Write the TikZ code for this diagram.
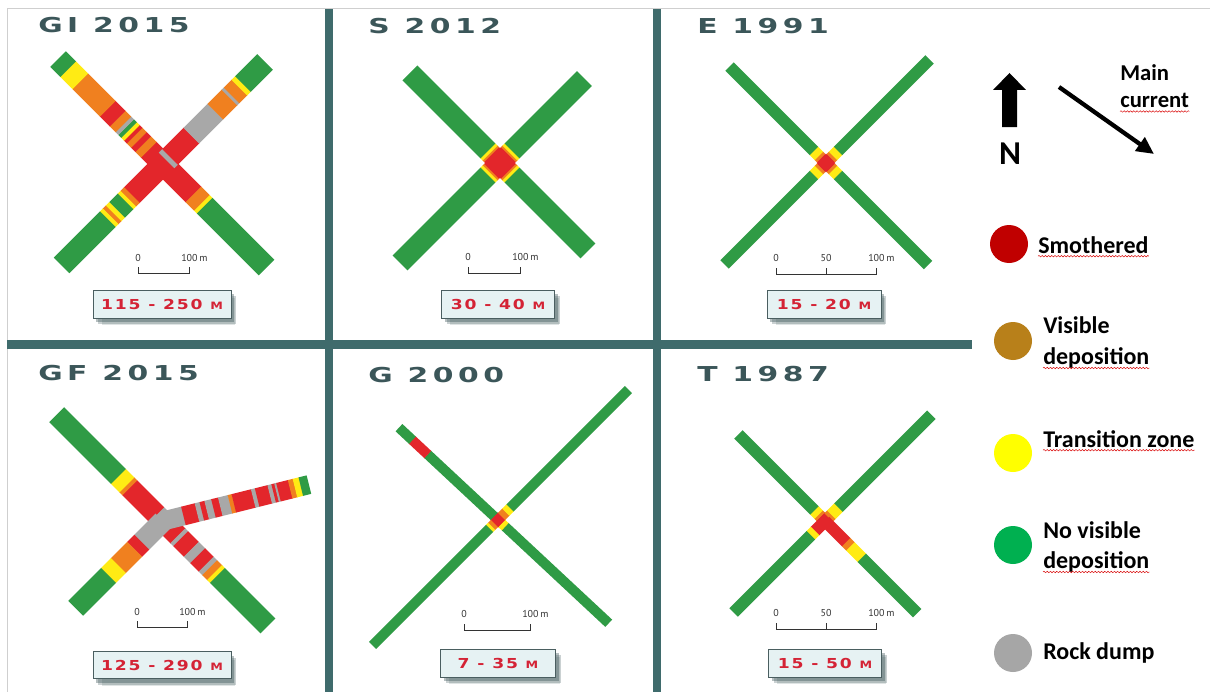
\documentclass[tikz,border=0pt]{standalone}
\usepackage{fontspec}
\setmainfont{Carlito}
\newfontfamily\titlefont{DejaVu Sans}[FakeStretch=1.45,LetterSpace=22]
\newfontfamily\rangefont{DejaVu Sans}[FakeStretch=1.25,LetterSpace=13]
\newfontfamily\scalefont{PT Sans}
\usetikzlibrary{arrows.meta,shadows,decorations.pathmorphing}

\definecolor{armgreen}{HTML}{2F9B45}
\definecolor{armred}{HTML}{E3262B}
\definecolor{armorange}{HTML}{F0801F}
\definecolor{armyellow}{HTML}{FFEB14}
\definecolor{armgrey}{HTML}{A8A8A8}
\definecolor{barcol}{HTML}{3F6B6C}
\definecolor{framegrey}{HTML}{CFCFCF}
\definecolor{titlecol}{HTML}{3B5659}
\definecolor{rangered}{HTML}{D42335}
\definecolor{boxfill}{HTML}{E6F2F3}
\definecolor{boxline}{HTML}{4A5E60}
\definecolor{boxshadow}{HTML}{2E4A4C}
\definecolor{scalecol}{HTML}{333333}
\definecolor{legred}{HTML}{C00000}
\definecolor{legbrown}{HTML}{B8801A}
\definecolor{legyellow}{HTML}{FFFF00}
\definecolor{leggreen}{HTML}{00B050}
\definecolor{leggrey}{HTML}{A6A6A6}

% one arm of a cross: angle, half width, bands from/to/colour
\newcommand{\armstrip}[3]{%
  \begin{scope}[rotate=#1]
    \foreach \from/\to/\col in {#3}
      \fill[\col] (\from,-#2) rectangle (\to+0.4,#2);
  \end{scope}}
\newcommand{\smallm}{{\fontsize{7.6}{8}\selectfont M}}

\begin{document}
\begin{tikzpicture}[x=0.75pt, y=-0.75pt,
  paneltitle/.style={anchor=west, inner sep=0, text=titlecol, font=\titlefont\bfseries\fontsize{15.4}{16}\selectfont},
  rangebox/.style={draw=boxline, line width=0.6pt, fill=boxfill, minimum height=21pt, inner sep=0, text=rangered,
    font=\rangefont\bfseries\fontsize{10.3}{11}\selectfont,
    drop shadow={shadow xshift=5pt, shadow yshift=-6pt, shadow scale=0.96, opacity=0.15, fill=boxshadow},
    drop shadow={shadow xshift=4pt, shadow yshift=-4.5pt, opacity=0.25, fill=boxshadow},
    drop shadow={shadow xshift=2.5pt, shadow yshift=-3pt, opacity=0.35, fill=boxshadow}},
  scalebar/.style={draw=scalecol, line width=0.6pt},
  scalelbl/.style={inner sep=0, text=scalecol, font=\scalefont\fontsize{7.5}{8}\selectfont},
  legdot/.style={circle, minimum size=28.5pt, inner sep=0},
  legtext/.style={anchor=base west, inner sep=0, font=\bfseries\fontsize{18}{20}\selectfont},
  curtext/.style={anchor=base west, inner sep=0, font=\bfseries\fontsize{17}{19}\selectfont},
  squiggle/.style={draw=red!85!black, line width=0.35pt, decorate, decoration={snake, amplitude=0.55pt, segment length=2.4pt}},
  currentarrow/.style={line width=3.2pt, -{Triangle[length=13pt, width=12pt]}}]
\useasboundingbox (0,0) rectangle (1210,692);
\fill[white] (0,0) rectangle (1210,692);

% frame and bars
\draw[framegrey, line width=0.75pt] (7,692) -- (7,9) -- (1210,9);
\fill[barcol] (325,9) rectangle (333,692);
\fill[barcol] (653,9) rectangle (661,692);
\fill[barcol] (7,340) rectangle (972,349);

% GI 2015
\begin{scope}[shift={(163,164)}]
  \armstrip{225}{11}{0/44/armred, 44/49/armorange, 49/53/armyellow, 53/65/armgreen, 65/70/armyellow, 70/74/armorange, 74/78/armyellow, 78/143/armgreen}
  \armstrip{-45}{11}{0/43/armred, 43/55/armorange, 55/59/armyellow, 59/146/armgreen}
  \armstrip{135}{11}{0/20/armred, 20/28/armorange, 28/34/armred, 34/40/armorange, 40/44/armred, 44/48/armyellow, 48/52/armgreen, 52/56/armgrey, 56/64/armorange, 64/78/armred, 78/117/armorange, 117/134/armyellow, 134/148/armgreen}
  \armstrip{45}{11}{0/5/armred, 5/10/armgrey, 10/40/armred, 40/74/armgrey, 74/94/armorange, 94/97/armgrey, 97/108/armorange, 108/113/armyellow, 113/144/armgreen}
\end{scope}
\node[paneltitle] (tGI) at (38,25) {GI 2015};
\draw[scalebar] (138,267) -- (138,273) -- (189,273) -- (189,267);
\node[scalelbl] (sGI0) at (138,258) {0};
\node[scalelbl, anchor=west] (sGI1) at (181,258) {100\,m};
\node[rangebox, minimum width=103.5pt] (rGI) at (162,304) {115 - 250 \smallm};

% S 2012
\begin{scope}[shift={(500,163)}]
  \armstrip{135}{10.5}{0/12/armred, 12/14/armorange, 14/17/armyellow, 17/127/armgreen}
  \armstrip{-45}{10.5}{0/12/armred, 12/14/armorange, 14/17/armyellow, 17/124/armgreen}
  \armstrip{225}{10.5}{0/12/armred, 12/14/armorange, 14/17/armyellow, 17/141/armgreen}
  \armstrip{45}{10.5}{0/12/armred, 12/14/armorange, 14/17/armyellow, 17/119/armgreen}
\end{scope}
\node[paneltitle] (tS) at (368,26) {S 2012};
\draw[scalebar] (468,267) -- (468,273) -- (520,273) -- (520,267);
\node[scalelbl] (sS0) at (468,257) {0};
\node[scalelbl, anchor=west] (sS1) at (512,257) {100\,m};
\node[rangebox, minimum width=84.75pt] (rS) at (498,304) {30 - 40 \smallm};

% E 1991
\begin{scope}[shift={(826,163)}]
  \armstrip{135}{6}{0/7/armred, 7/10/armorange, 10/17/armyellow, 17/136/armgreen}
  \armstrip{-45}{6}{0/7/armred, 7/10/armorange, 10/17/armyellow, 17/144/armgreen}
  \armstrip{225}{6}{0/7/armred, 7/10/armorange, 10/17/armyellow, 17/143/armgreen}
  \armstrip{45}{6}{0/7/armred, 7/10/armorange, 10/17/armyellow, 17/146/armgreen}
\end{scope}
\node[paneltitle] (tE) at (697,26) {E 1991};
\draw[scalebar] (776,268) -- (776,274) -- (876,274) -- (876,268);
\draw[scalebar] (826,268) -- (826,274);
\node[scalelbl] (sE0) at (776,258) {0};
\node[scalelbl] (sE1) at (826,258) {50};
\node[scalelbl, anchor=west] (sE2) at (868,258) {100\,m};
\node[rangebox, minimum width=85.5pt] (rE) at (824,304) {15 - 20 \smallm};

% GF 2015
\begin{scope}[shift={(163,521)}]
  \armstrip{135}{10.5}{0/9/armgrey, 9/47/armred, 47/51/armorange, 51/63/armyellow, 63/150/armgreen}
  \armstrip{-45}{10.5}{0/21/armred, 21/25/armgrey, 25/40/armred, 40/49/armgrey, 49/61/armred, 61/66/armgrey, 66/73/armorange, 73/77/armyellow, 77/148/armgreen}
  \armstrip{225}{10.5}{0/30/armgrey, 30/40/armred, 40/63/armorange, 63/77/armyellow, 77/123/armgreen}
  \armstrip{14}{9.5}{0/21/armgrey, 21/35/armred, 35/40/armgrey, 40/45/armred, 45/52/armgrey, 52/59/armred, 59/69/armgrey, 69/73/armorange, 73/93/armred, 93/97/armgrey, 97/110/armred, 110/114/armgrey, 114/117/armred, 117/119/armgrey, 119/131/armred, 131/136/armorange, 136/142/armyellow, 142/150/armgreen}
\end{scope}
\node[paneltitle] (tGF) at (38,373) {GF 2015};
\draw[scalebar] (137,621) -- (137,627) -- (187,627) -- (187,621);
\node[scalelbl] (sGF0) at (137,612) {0};
\node[scalelbl, anchor=west] (sGF1) at (179,612) {100\,m};
\node[rangebox, minimum width=103.5pt, minimum height=20.25pt] (rGF) at (162,665) {125 - 290 \smallm};

% G 2000
\begin{scope}[shift={(498,520)}]
  \armstrip{137}{5}{0/5/armred, 5/96/armgreen, 96/117/armred, 117/135/armgreen}
  \armstrip{-43}{5}{0/5/armred, 5/10/armyellow, 10/151/armgreen}
  \armstrip{225}{5}{0/5/armred, 5/9/armorange, 9/12/armyellow, 12/177/armgreen}
  \armstrip{45}{5}{0/5/armred, 5/11/armorange, 11/17/armyellow, 17/184/armgreen}
\end{scope}
\node[paneltitle] (tG) at (368,375) {G 2000};
\draw[scalebar] (464,624) -- (464,630) -- (530,630) -- (530,624);
\node[scalelbl] (sG0) at (464,614) {0};
\node[scalelbl, anchor=west] (sG1) at (522,614) {100\,m};
\node[rangebox, minimum width=86.25pt] (rG) at (498,663) {7 - 35 \smallm};

% T 1987
\begin{scope}[shift={(825,521)}]
  \armstrip{135}{6}{0/6/armred, 6/9/armorange, 9/15/armyellow, 15/122/armgreen}
  \armstrip{225}{6}{0/14/armred, 14/20/armyellow, 20/129/armgreen}
  \armstrip{45}{6}{0/5/armred, 5/9/armorange, 9/19/armyellow, 19/150/armgreen}
  \armstrip{-45}{6}{0/30/armred, 30/36/armorange, 36/52/armyellow, 52/130/armgreen}
\end{scope}
\node[paneltitle] (tT) at (697,374) {T 1987};
\draw[scalebar] (776,623) -- (776,629) -- (876,629) -- (876,623);
\draw[scalebar] (826,623) -- (826,629);
\node[scalelbl] (sT0) at (776,613) {0};
\node[scalelbl] (sT1) at (826,613) {50};
\node[scalelbl, anchor=west] (sT2) at (868,613) {100\,m};
\node[rangebox, minimum width=84.75pt] (rT) at (825,663) {15 - 50 \smallm};

% north and current
\fill (1009.5,73) -- (1026,90) -- (1017,90) -- (1017,127) -- (1002,127) -- (1002,90) -- (993,90) -- cycle;
\node[inner sep=0, font=\bfseries\fontsize{25}{27}\selectfont] (nlbl) at (1010,154) {N};
\coordinate (mc1) at (1059,87);
\coordinate (mc2) at (1154,154);
\draw[currentarrow] (mc1) -- (mc2);
\node[curtext] (tmain) at (1120,81) {Main};
\node[curtext] (tcur) at (1120,108) {current};
\draw[squiggle] ([yshift=-2.6pt]tcur.base west) -- ([yshift=-2.6pt]tcur.base east);

% legend
\node[legdot, fill=legred] (dsmo) at (1009,244) {};
\node[legtext] (tsmo) at (1038,253) {Smothered};
\draw[squiggle] ([yshift=-2.4pt]tsmo.base west) -- ([yshift=-2.4pt]tsmo.base east);

\node[legdot, fill=legbrown] (dvis) at (1013,341) {};
\node[legtext] (tvis) at (1043,333) {Visible};
\node[legtext] (tvisd) at (1043,364) {deposition};
\draw[squiggle] ([yshift=-3pt]tvisd.base west) -- ([yshift=-3pt]tvisd.base east);

\node[legdot, fill=legyellow] (dtra) at (1013,453) {};
\node[legtext] (ttra) at (1043,447) {Transition zone};
\draw[squiggle] ([yshift=-2.4pt]ttra.base west) -- ([yshift=-2.4pt]ttra.base east);

\node[legdot, fill=leggreen] (dnov) at (1013,545) {};
\node[legtext] (tnov) at (1043,538) {No visible};
\node[legtext] (tnovd) at (1043,568) {deposition};
\draw[squiggle] ([yshift=-3pt]tnovd.base west) -- ([yshift=-3pt]tnovd.base east);

\node[legdot, fill=leggrey] (drock) at (1013,653) {};
\node[legtext] (trock) at (1043,659) {Rock dump};
\end{tikzpicture}
\end{document}
